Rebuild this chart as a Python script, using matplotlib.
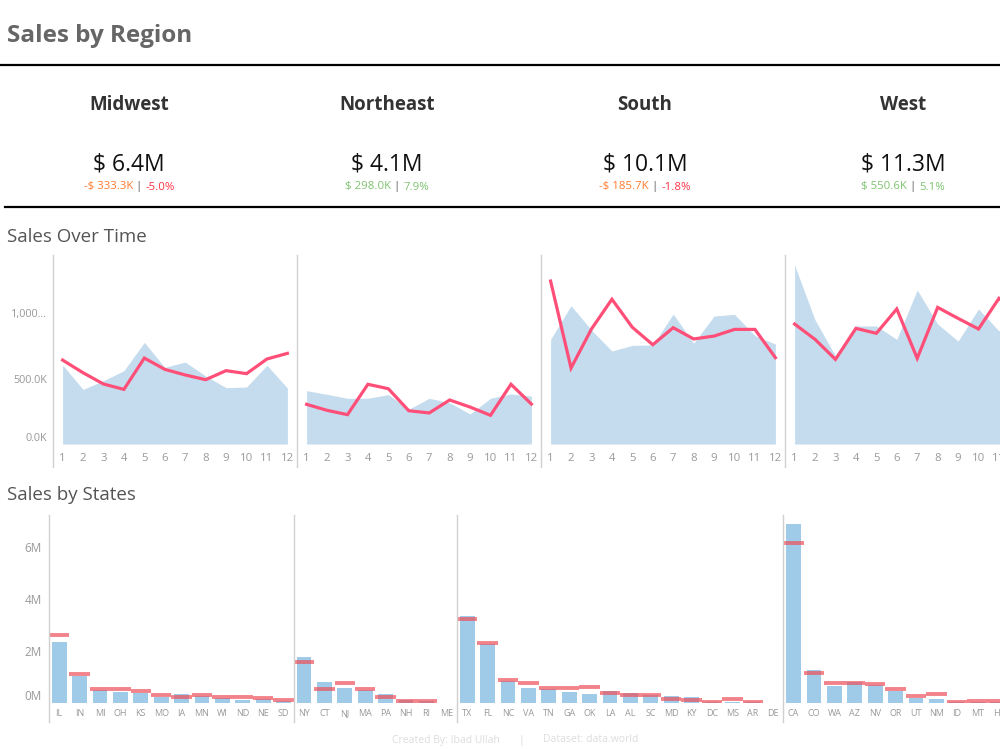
import matplotlib
matplotlib.use('Agg')
import matplotlib.pyplot as plt
from matplotlib.lines import Line2D
import numpy as np

plt.rcParams['font.family'] = ['Open Sans', 'DejaVu Sans']

W, H = 1000, 749

# ---------------- data ----------------
regions = ['Midwest', 'Northeast', 'South', 'West']
kpi_totals = ['$ 6.4M', '$ 4.1M', '$ 10.1M', '$ 11.3M']
kpi_change = ['-$ 333.3K', '$ 298.0K', '-$ 185.7K', '$ 550.6K']
kpi_pct = ['-5.0%', '7.9%', '-1.8%', '5.1%']
kpi_up = [False, True, False, True]

months = [1, 2, 3, 4, 5, 6, 7, 8, 9, 10, 11, 12]
# monthly sales (thousands): current year (area) and previous year (line)
midwest_cur = [603, 417, 483, 560, 776, 585, 626, 519, 430, 435, 601, 427]
midwest_prev = [641, 544, 458, 417, 656, 570, 527, 491, 560, 537, 649, 692]
northeast_cur = [407, 379, 349, 349, 377, 265, 349, 315, 229, 349, 382, 366]
northeast_prev = [303, 257, 224, 456, 422, 254, 237, 336, 282, 219, 456, 305]
south_cur = [799, 1056, 870, 710, 753, 756, 992, 769, 977, 990, 827, 763]
south_prev = [1244, 580, 878, 1105, 891, 758, 888, 802, 824, 875, 875, 659]
west_cur = [1366, 947, 672, 901, 901, 799, 1176, 916, 786, 1031, 863, 990]
west_prev = [916, 799, 646, 883, 845, 1031, 654, 1043, 959, 878, 1112, 980]

time_yticks = [0, 500, 1000]
time_ylabels = ['0.0K', '500.0K', '1,000...']

# sales by state (millions): current (bars) and previous year (target marks)
midwest_states = ['IL', 'IN', 'MI', 'OH', 'KS', 'MO', 'IA', 'MN', 'WI', 'ND', 'NE', 'SD']
midwest_sales = [2.35, 1.05, 0.50, 0.44, 0.38, 0.24, 0.36, 0.26, 0.20, 0.13, 0.14, 0.08]
midwest_target = [2.60, 1.13, 0.55, 0.55, 0.47, 0.31, 0.22, 0.29, 0.22, 0.23, 0.19, 0.12]
northeast_states = ['NY', 'CT', 'NJ', 'MA', 'PA', 'NH', 'RI', 'ME']
northeast_sales = [1.77, 0.80, 0.58, 0.49, 0.33, 0.12, 0.07, 0.01]
northeast_target = [1.56, 0.55, 0.77, 0.55, 0.23, 0.08, 0.08, np.nan]
south_states = ['TX', 'FL', 'NC', 'VA', 'TN', 'GA', 'OK', 'LA', 'AL', 'SC',
                'MD', 'KY', 'DC', 'MS', 'AR', 'DE']
south_sales = [3.36, 2.26, 0.86, 0.58, 0.53, 0.44, 0.33, 0.46, 0.37, 0.30,
               0.28, 0.22, 0.05, 0.05, 0.04, 0.01]
south_target = [3.22, 2.29, 0.88, 0.77, 0.59, 0.59, 0.63, 0.38, 0.31, 0.29,
                0.17, 0.13, 0.05, 0.14, 0.05, np.nan]
west_states = ['CA', 'CO', 'WA', 'AZ', 'NV', 'OR', 'UT', 'NM', 'ID', 'MT', 'HI', 'WY']
west_sales = [6.88, 1.26, 0.67, 0.81, 0.68, 0.45, 0.20, 0.15, 0.04, 0.04, 0.03, 0.01]
west_target = [6.14, 1.17, 0.78, 0.77, 0.73, 0.53, 0.28, 0.35, 0.05, 0.09, 0.08, 0.02]

state_yticks = [0, 2, 4, 6]
state_ylabels = ['0M', '2M', '4M', '6M']

# ---------------- styling ----------------
AREA_C = '#C4DCEE'
LINE_C = '#FF4F78'
BAR_C = '#A0CBE8'
TARGET_C = '#EE4F5A'
TICK_C = '#999999'
DIV_C = '#D0D0D0'
ORANGE = '#FF7A2E'
RED = '#FF3344'
GREEN = '#7CC36E'

fig = plt.figure(figsize=(W / 100, H / 100), dpi=100)


def rect(x0, y0, x1, y1):
    return [x0 / W, 1 - y1 / H, (x1 - x0) / W, (y1 - y0) / H]


def fx(px):
    return px / W


def fy(py):
    return 1 - py / H


def hline(x0, x1, y, lw=1.6, color='black'):
    fig.add_artist(Line2D([fx(x0), fx(x1)], [fy(y), fy(y)], lw=lw, color=color,
                          transform=fig.transFigure))


def vline(x, y0, y1, lw=1.0, color=DIV_C):
    fig.add_artist(Line2D([fx(x), fx(x)], [fy(y0), fy(y1)], lw=lw, color=color,
                          transform=fig.transFigure))


# ---------------- header ----------------
fig.text(fx(7), fy(36), 'Sales by Region', fontsize=17.5, fontweight='bold',
         color='#666666', va='center', ha='left')
hline(0, 1000, 65, lw=1.6)
hline(5, 1000, 207, lw=1.6)

centers = [129, 387, 645, 903]
sub_parts = []
for i, reg in enumerate(regions):
    cx = centers[i]
    fig.text(fx(cx), fy(105), reg, fontsize=13.5, fontweight='bold',
             color='#333333', ha='center', va='center')
    fig.text(fx(cx), fy(164), kpi_totals[i], fontsize=16.5, color='#111111',
             ha='center', va='center')
    c1 = GREEN if kpi_up[i] else ORANGE
    c2 = GREEN if kpi_up[i] else RED
    t1 = fig.text(0, fy(187), kpi_change[i], fontsize=8.2, color=c1, va='center', ha='left')
    t2 = fig.text(0, fy(187), ' | ', fontsize=8.2, color='#555555', va='center', ha='left')
    t3 = fig.text(0, fy(187), kpi_pct[i], fontsize=8.2, color=c2, va='center', ha='left')
    sub_parts.append((cx, t1, t2, t3))

fig.canvas.draw()
r = fig.canvas.get_renderer()
for cx, t1, t2, t3 in sub_parts:
    w1 = t1.get_window_extent(r).width
    w2 = t2.get_window_extent(r).width
    w3 = t3.get_window_extent(r).width
    start = cx - (w1 + w2 + w3) / 2
    t1.set_x(fx(start))
    t2.set_x(fx(start + w1))
    t3.set_x(fx(start + w1 + w2))

# ---------------- sales over time ----------------
fig.text(fx(7), fy(237), 'Sales Over Time', fontsize=13.5, color='#555555',
         va='center', ha='left')

cur_list = [midwest_cur, northeast_cur, south_cur, west_cur]
prev_list = [midwest_prev, northeast_prev, south_prev, west_prev]
pw = 244
for i in range(4):
    x0 = 53 + pw * i
    ax = fig.add_axes(rect(x0, 255, x0 + pw, 444))
    ax.fill_between(months, cur_list[i], 0, color=AREA_C, lw=0)
    ax.plot(months, prev_list[i], color=LINE_C, lw=2.3, solid_joinstyle='miter')
    ax.set_xlim(0.53, 12.47)
    ax.set_ylim(0, 1443)
    for s in ax.spines.values():
        s.set_visible(False)
    ax.set_xticks(months)
    ax.set_xticklabels([str(m) for m in months])
    ax.tick_params(axis='x', length=0, pad=6.5, labelsize=8.2, labelcolor=TICK_C)
    ax.set_yticks(time_yticks)
    if i == 0:
        ax.set_yticklabels(time_ylabels)
        ax.tick_params(axis='y', length=0, pad=4.5, labelsize=7.8, labelcolor=TICK_C)
        ax.get_yticklabels()[0].set_va('bottom')
    else:
        ax.set_yticklabels([])
        ax.tick_params(axis='y', length=0)
    ax.patch.set_alpha(0)
    vline(x0, 255, 467)

# ---------------- sales by states ----------------
fig.text(fx(7), fy(495), 'Sales by States', fontsize=13.5, color='#555555',
         va='center', ha='left')

states_list = [midwest_states, northeast_states, south_states, west_states]
sales_list = [midwest_sales, northeast_sales, south_sales, west_sales]
target_list = [midwest_target, northeast_target, south_target, west_target]
band = 20.4
x0 = 49
for i in range(4):
    n = len(states_list[i])
    x1 = x0 + n * band
    ax = fig.add_axes(rect(x0, 515, x1, 703))
    xs = np.arange(n)
    ax.bar(xs, sales_list[i], width=0.73, color=BAR_C, lw=0)
    ax.hlines(target_list[i], xs - 0.5, xs + 0.5, colors=TARGET_C, lw=2.8, alpha=0.7)
    ax.set_xlim(-0.5, n - 0.5)
    ax.set_ylim(0, 7.23)
    for s in ax.spines.values():
        s.set_visible(False)
    ax.set_xticks(xs)
    ax.set_xticklabels(states_list[i])
    ax.tick_params(axis='x', length=0, pad=4.5, labelsize=6.5, labelcolor=TICK_C)
    ax.set_yticks(state_yticks)
    if i == 0:
        ax.set_yticklabels(state_ylabels)
        ax.tick_params(axis='y', length=0, pad=5, labelsize=8.5, labelcolor=TICK_C)
        ax.get_yticklabels()[0].set_va('bottom')
    else:
        ax.set_yticklabels([])
        ax.tick_params(axis='y', length=0)
    ax.patch.set_alpha(0)
    vline(x0, 515, 722)
    x0 = x1

# ---------------- footer ----------------
fig.text(fx(446), fy(740), 'Created By: Ibad Ullah', fontsize=7.5, color='#DDDDDD',
         ha='center', va='center')
fig.text(fx(521), fy(740), '|', fontsize=7.5, color='#DDDDDD', ha='center', va='center')
fig.text(fx(591), fy(740), 'Dataset: data.world', fontsize=7.5, color='#DDDDDD',
         ha='center', va='center')

fig.savefig('out.png', dpi=100)
